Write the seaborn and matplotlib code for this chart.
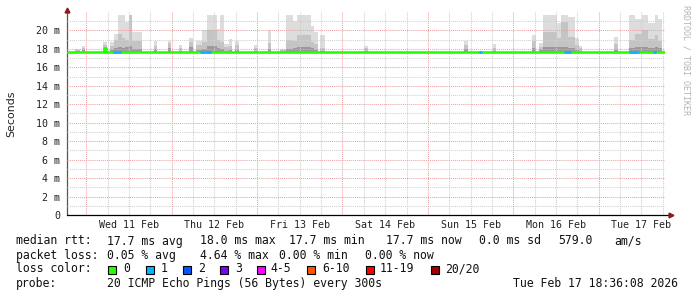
import matplotlib
matplotlib.use("Agg")
import matplotlib.pyplot as plt
from matplotlib.patches import Rectangle
import seaborn as sns
import numpy as np
import pandas as pd

# ---------------- data ----------------
# time in hours since graph start (Tue Feb 10 18:36:08 2026), 7 days window
day_labels = ["Wed 11 Feb", "Thu 12 Feb", "Fri 13 Feb", "Sat 14 Feb",
              "Sun 15 Feb", "Mon 16 Feb", "Tue 17 Feb"]
y_ticks = [0, 2, 4, 6, 8, 10, 12, 14, 16, 18, 20]
y_tick_labels = ["0", "2 m", "4 m", "6 m", "8 m", "10 m", "12 m", "14 m",
                 "16 m", "18 m", "20 m"]

# median rtt (ms), step function
med_t = [0.0, 10.3, 11.0, 168.0]
med_v = [17.7, 18.1, 17.7, 17.7]

# smoke (ping spread) blocks: start/end hour, top (max), mid, low (ms)
smoke_start = [2.2, 4.2, 10.1, 12.1, 13.2, 14.3, 15.5, 16.3, 17.4, 18.3,
               24.4, 28.4, 31.5, 34.3, 36.2, 37.9, 39.3, 42.1, 43.0, 44.1,
               45.5, 47.2, 52.5, 56.5, 59.8, 61.5, 63.5, 64.6, 68.5, 69.4,
               71.1, 83.4, 111.5, 119.7, 130.6, 132.6, 133.7, 137.6, 138.8, 140.7,
               142.7, 143.8, 153.7, 157.9, 159.6, 161.5, 163.2, 165.2, 166.0]
smoke_end = [3.7, 5.1, 11.2, 13.2, 14.3, 15.5, 16.3, 17.4, 18.3, 21.1,
             25.3, 29.2, 32.3, 35.4, 37.9, 39.3, 42.1, 43.0, 44.1, 45.5,
             46.3, 48.3, 53.4, 57.3, 61.5, 63.5, 64.6, 68.5, 69.4, 70.5,
             72.5, 84.6, 112.6, 120.5, 131.7, 133.7, 137.6, 138.8, 140.7, 142.7,
             143.8, 144.7, 154.8, 159.6, 161.5, 163.2, 165.2, 166.0, 167.2]
smoke_top = [18.0, 18.3, 18.7, 18.7, 19.6, 21.7, 21.7, 20.9, 21.7, 19.8,
             18.9, 18.9, 18.4, 19.2, 18.9, 20.1, 21.7, 20.2, 21.7, 18.5,
             19.1, 18.9, 18.4, 20.0, 18.0, 21.7, 21.0, 21.7, 20.5, 19.8,
             19.5, 18.3, 18.9, 18.5, 19.5, 18.6, 21.7, 20.8, 21.7, 21.5,
             19.2, 18.3, 19.3, 21.7, 21.2, 21.7, 20.8, 21.7, 21.2]
smoke_mid = [17.9, 18.1, 18.4, 18.3, 19.0, 19.6, 19.2, 19.0, 21.7, 18.9,
             18.3, 18.6, 18.1, 18.7, 18.4, 18.8, 20.1, 19.0, 18.7, 18.2,
             18.3, 18.4, 18.1, 18.6, 17.9, 19.0, 18.9, 19.5, 18.8, 18.5,
             18.1, 18.1, 18.4, 18.1, 18.9, 18.2, 19.8, 19.2, 20.9, 19.3,
             18.4, 18.1, 18.5, 19.0, 19.6, 20.0, 19.1, 19.5, 18.9]
smoke_low = [17.8, 17.9, 18.1, 17.9, 18.1, 18.2, 18.1, 18.2, 18.3, 18.0,
             17.9, 18.1, 17.8, 18.2, 17.9, 18.0, 18.3, 18.1, 18.0, 17.8,
             17.9, 17.9, 17.8, 18.0, 17.8, 18.0, 18.1, 18.2, 18.1, 17.9,
             17.8, 17.8, 18.0, 17.8, 18.1, 17.9, 18.2, 18.2, 18.2, 18.1,
             17.9, 17.8, 17.9, 18.1, 18.2, 18.2, 18.1, 18.2, 18.1]

# periods with 1/20 packet loss (drawn in loss colour on the median line)
loss1_start = [12.9, 37.4, 115.7, 139.6, 157.9, 164.6]
loss1_end = [15.2, 40.5, 116.6, 141.6, 160.7, 165.5]

loss_labels = ["0", "1", "2", "3", "4-5", "6-10", "11-19", "20/20"]
loss_colors = ["#26ff00", "#00b8ff", "#0059ff", "#7e00ff", "#ff00ff",
               "#ff5500", "#ff0000", "#a10000"]

# ---------------- figure ----------------
sns.set_theme(style="white")
plt.rcParams["font.family"] = ["DejaVu Sans"]
mono = "DejaVu Sans Mono"

W, H = 697, 297
fig = plt.figure(figsize=(W / 100, H / 100), dpi=100)
fig.patch.set_facecolor("white")
ax = fig.add_axes([67 / W, (H - 215) / H, 598 / W, 203 / H])
ax.set_facecolor("white")
ax.set_xlim(0, 168)
ax.set_ylim(0, 22)

# time geometry: first midnight (Feb 11 00:00) is 5.398 h after start
first_midnight = 24 - (18 + 36 / 60 + 8 / 3600)
midnights = [first_midnight + 24 * k for k in range(7)]
six_hours = [first_midnight - 6 + 6 * k for k in range(30)]
six_hours = [h for h in six_hours if 0 < h < 168 and
             min(abs(h - m) for m in midnights) > 0.1]
noons = [m + 12 for m in midnights]

red_grid = "#eba3a3"
gray_grid = "#cfcfcf"
dot = (0, (1, 1))

# minor grid
for h in six_hours:
    ax.axvline(h, color=gray_grid, lw=0.75, ls=dot, zorder=3)
for v in range(1, 22, 2):
    ax.axhline(v, color=gray_grid, lw=0.75, ls=dot, zorder=3)
# major grid
for h in midnights:
    ax.axvline(h, color=red_grid, lw=0.75, ls=dot, zorder=3)
for v in y_ticks[1:]:
    ax.axhline(v, color=red_grid, lw=0.75, ls=dot, zorder=3)

# smoke
base = med_v[0]
widths = np.array(smoke_end) - np.array(smoke_start)
ax.bar(smoke_start, np.array(smoke_top) - base, width=widths, bottom=base,
       align="edge", color="#dddddd", linewidth=0, zorder=2)
ax.bar(smoke_start, np.array(smoke_mid) - base, width=widths, bottom=base,
       align="edge", color="#c4c4c4", linewidth=0, zorder=2)
ax.bar(smoke_start, np.array(smoke_low) - base, width=widths, bottom=base,
       align="edge", color="#999999", linewidth=0, zorder=2)

# median line
med_df = pd.DataFrame({"t": med_t, "v": med_v})
sns.lineplot(data=med_df, x="t", y="v", ax=ax, color=loss_colors[0],
             lw=1.9, drawstyle="steps-post", estimator=None, sort=False,
             zorder=5)
ax.hlines([base] * len(loss1_start), loss1_start, loss1_end,
          color=loss_colors[1], lw=1.9, zorder=6)

# axes styling
for s in ["top", "right", "bottom"]:
    ax.spines[s].set_visible(False)
ax.spines["left"].set_color("#555555")
ax.spines["left"].set_linewidth(0.9)
ax.plot([0, 1.008], [0, 0], transform=ax.transAxes, color="black", lw=0.9,
        clip_on=False, zorder=7)
ax.plot([0], [1.008], transform=ax.transAxes, marker="^", color="#8b1a1a",
        ms=3.5, clip_on=False, zorder=8)
ax.plot([1.01], [0], transform=ax.transAxes, marker=">", color="#8b1a1a",
        ms=3.5, clip_on=False, zorder=8)

ax.set_yticks(y_ticks)
ax.set_yticklabels(y_tick_labels, fontfamily=mono, fontsize=7.2,
                   color="#222222")
ax.set_xticks(noons)
ax.set_xticklabels(day_labels, fontfamily=mono, fontsize=7.2, color="#222222")
ax.tick_params(axis="both", length=0, pad=5)
ax.tick_params(axis="x", pad=3.5)
ax.set_xticks(midnights, minor=True)
ax.tick_params(axis="x", which="minor", length=3, color=red_grid, width=0.7,
               direction="out")
ax.set_xlabel("")
ax.set_ylabel("")

fig.text(11 / W, 1 - 114 / H, "Seconds", rotation=90, ha="center",
         va="center", fontsize=7.9, color="#222222")
fig.text(686 / W, 1 - 60 / H, "RRDTOOL / TOBI OETIKER", rotation=270,
         ha="center", va="center", fontfamily=mono, fontsize=6.0,
         color="#b4b4b4")

# ---------------- legend text ----------------
def ftxt(x, y, s, **kw):
    fig.text(x / W, 1 - y / H, s, ha="left", va="center", fontfamily=mono,
             fontsize=8.3, color="#111111", **kw)

row1 = [(16, "median rtt:"), (107, "17.7 ms avg"), (200, "18.0 ms max"),
        (289, "17.7 ms min"), (386, "17.7 ms now"), (479, "0.0 ms sd"),
        (558, "579.0"), (614, "am/s")]
row2 = [(16, "packet loss:"), (107, "0.05 % avg"), (200, "4.64 % max"),
        (279, "0.00 % min"), (365, "0.00 % now")]
for x, s in row1:
    ftxt(x, 241, s)
for x, s in row2:
    ftxt(x, 255.5, s)

ftxt(16, 269, "loss color:")
box_x = [108, 146, 183, 220, 257, 307, 366, 431]
lab_x = [123, 161, 198, 235, 270, 322, 380, 445]
for bx, lx, lab, col in zip(box_x, lab_x, loss_labels, loss_colors):
    fig.patches.append(Rectangle((bx / W, 1 - 273.5 / H), 8 / W, 8 / H,
                                 transform=fig.transFigure, facecolor=col,
                                 edgecolor="black", linewidth=0.8))
    ftxt(lx, 269, lab)

ftxt(16, 283.5, "probe:")
ftxt(107, 283.5, "20 ICMP Echo Pings (56 Bytes) every 300s")
ftxt(513, 283.5, "Tue Feb 17 18:36:08 2026")

fig.savefig("out.png", dpi=100, facecolor="white")
